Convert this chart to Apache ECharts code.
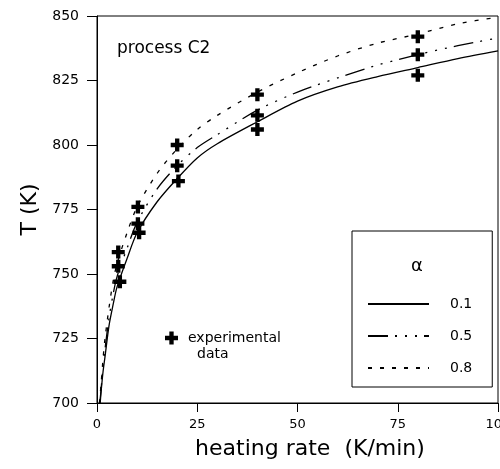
<!DOCTYPE html>
<html>
<head>
<meta charset="utf-8">
<script src="https://cdn.jsdelivr.net/npm/echarts@6/dist/echarts.min.js"></script>
<style>
  html, body { margin: 0; padding: 0; background: #fff; }
  #chart { width: 500px; height: 469px; }
</style>
</head>
<body>
<div id="chart"></div>
<script>
// heating rate (K/min) vs T (K)
const curve01 = [[0.8, 700], [1, 704], [1.5, 712], [2, 718], [3, 730], [4, 738], [5, 745], [7.5, 756], [10, 766], [15, 778], [20, 787], [25, 795], [30, 800.5], [40, 809], [50, 817], [60, 822.5], [70, 826.5], [80, 830], [90, 833.5], [100, 836.5]]
const curve05 = [[0.7, 700], [1, 705], [1.5, 714], [2, 721], [3, 733], [4, 742], [5, 749], [7.5, 760], [10, 770], [15, 783], [20, 792], [25, 799], [30, 804], [40, 813.5], [50, 820.5], [60, 826], [70, 831], [80, 835], [90, 838.5], [100, 841.5]]
const curve08 = [[0.6, 700], [1, 707], [1.5, 717], [2, 725], [3, 737], [4, 747], [5, 754], [7.5, 766], [10, 776], [15, 789], [20, 798.5], [25, 806], [30, 811.5], [40, 820.5], [50, 828], [60, 834.5], [70, 839.5], [80, 843], [90, 847], [100, 849.5]]
const experimental = [[5.3, 758.5], [5.3, 753], [5.7, 747], [10.2, 776], [10.2, 769.5], [10.5, 766], [20, 800], [20, 792], [20.3, 786], [40, 819.5], [40, 811.5], [40, 806], [80, 842], [80, 835], [80, 827]]
const xTicks = [0, 25, 50, 75, 100]
const yTicks = [700, 725, 750, 775, 800, 825, 850]

const plus = 'path://M4,0H8V4H12V8H8V12H4V8H0V4H4Z'
const font = 'DejaVu Sans'

let chart = echarts.init(document.getElementById('chart'))
let option = {
  backgroundColor: '#fff',
  animation: false,
  textStyle: { fontFamily: font, color: '#000' },
  grid: {
    left: 97, right: 2, top: 16, bottom: 66,
    outerBoundsMode: 'none',
    show: true, borderColor: '#000', borderWidth: 1
  },
  xAxis: {
    type: 'value',
    min: xTicks[0], max: xTicks[xTicks.length - 1], interval: 25,
    name: 'heating rate  (K/min)',
    nameLocation: 'middle',
    nameGap: 35,
    nameTextStyle: { fontSize: 22, color: '#000', padding: [0, 0, 0, 25] },
    axisLine: { lineStyle: { color: '#000', width: 1 } },
    axisTick: { length: 9, lineStyle: { color: '#000' } },
    axisLabel: { fontSize: 13, color: '#000', margin: 15, showMaxLabel: true },
    splitLine: { show: false }
  },
  yAxis: {
    type: 'value',
    min: yTicks[0], max: yTicks[yTicks.length - 1], interval: 25,
    name: 'T (K)',
    nameLocation: 'middle',
    nameGap: 56,
    nameTextStyle: { fontSize: 22, color: '#000' },
    axisLine: { lineStyle: { color: '#000', width: 1 } },
    axisTick: { length: 10, lineStyle: { color: '#000' } },
    axisLabel: { fontSize: 14, color: '#000', margin: 18 },
    splitLine: { show: false }
  },
  legend: [{
    data: ['0.1', '0.5', '0.8'],
    orient: 'vertical',
    left: 352, top: 231,
    padding: [66, 20, 12, 15],
    borderColor: '#000', borderWidth: 1,
    itemWidth: 61, itemHeight: 14, itemGap: 18,
    itemStyle: { opacity: 0 },
    textStyle: { fontSize: 14, color: '#000', padding: [0, 0, 0, 16], fontFamily: font }
  }, {
    data: ['experimental'],
    left: 160, top: 326,
    itemWidth: 13, itemHeight: 13,
    textStyle: { fontSize: 14, color: '#000', padding: [0, 0, 0, 5], fontFamily: font }
  }],
  graphic: [
    { type: 'text', left: 117, top: 40, style: { text: 'process C2', fontSize: 17, fontFamily: font, fill: '#000' } },
    { type: 'text', left: 411, top: 257, style: { text: 'α', fontSize: 18, fontFamily: font, fill: '#000' } },
    { type: 'text', left: 197, top: 347, style: { text: 'data', fontSize: 14, fontFamily: font, fill: '#000' } }
  ],
  series: [
    { name: '0.1', type: 'line', data: curve01, smooth: 0.3, showSymbol: false, symbol: 'none',
      lineStyle: { color: '#000', width: 1.3, type: 'solid' }, itemStyle: { color: '#000' } },
    { name: '0.5', type: 'line', data: curve05, smooth: 0.3, showSymbol: false, symbol: 'none',
      lineStyle: { color: '#000', width: 1.3, type: [20, 7, 2, 8, 2, 8, 2, 7] }, itemStyle: { color: '#000' } },
    { name: '0.8', type: 'line', data: curve08, smooth: 0.3, showSymbol: false, symbol: 'none',
      lineStyle: { color: '#000', width: 1.3, type: [4, 8] }, itemStyle: { color: '#000' } },
    { name: 'experimental', type: 'scatter', data: experimental, symbol: plus, symbolSize: 13,
      itemStyle: { color: '#000', opacity: 1 }, z: 5 }
  ]
}
option && chart.setOption(option)
</script>
</body>
</html>
